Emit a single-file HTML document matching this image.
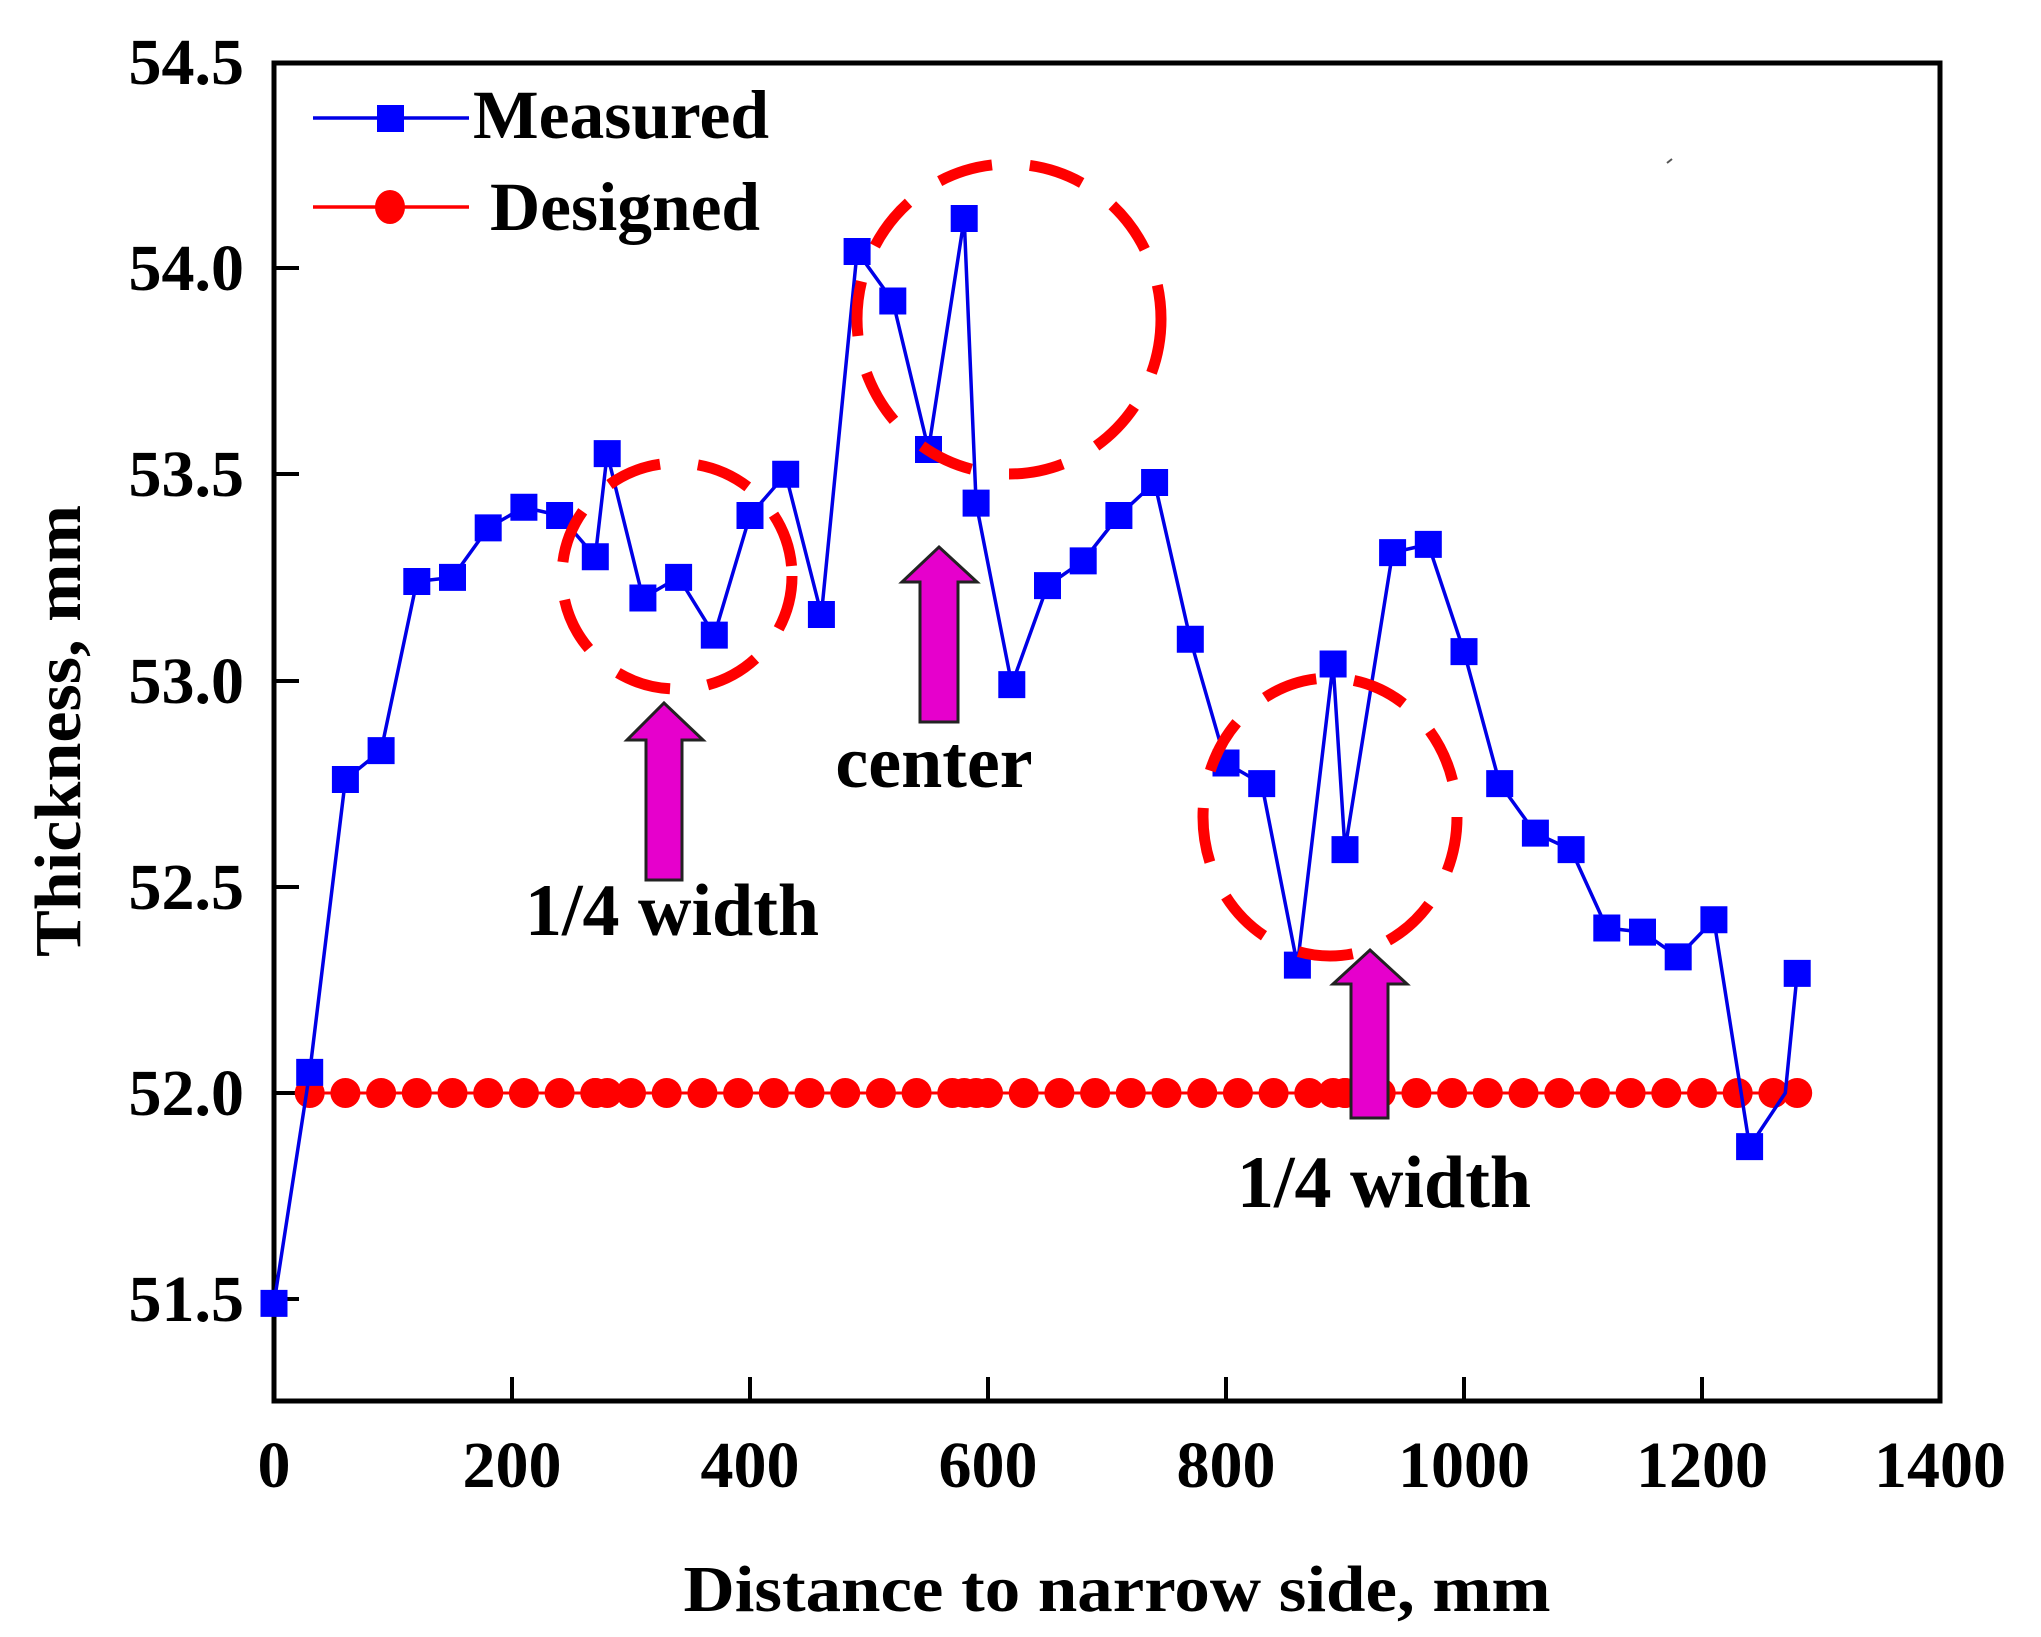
<!DOCTYPE html>
<html><head><meta charset="utf-8"><style>
html,body{margin:0;padding:0;background:#fff;}
svg{display:block;}
text{font-family:"Liberation Serif",serif;font-weight:bold;fill:#000;}
</style></head><body>
<svg width="2041" height="1637" viewBox="0 0 2041 1637" xmlns="http://www.w3.org/2000/svg">
<rect width="2041" height="1637" fill="#fff"/>
<rect x="274" y="63" width="1666" height="1338" fill="none" stroke="#000" stroke-width="5"/>
<g stroke="#000" stroke-width="4">
<line x1="512" y1="1401" x2="512" y2="1377"/>
<line x1="750" y1="1401" x2="750" y2="1377"/>
<line x1="988" y1="1401" x2="988" y2="1377"/>
<line x1="1226" y1="1401" x2="1226" y2="1377"/>
<line x1="1464" y1="1401" x2="1464" y2="1377"/>
<line x1="1702" y1="1401" x2="1702" y2="1377"/>
<line x1="274" y1="268" x2="299" y2="268"/>
<line x1="274" y1="474" x2="299" y2="474"/>
<line x1="274" y1="681" x2="299" y2="681"/>
<line x1="274" y1="887" x2="299" y2="887"/>
<line x1="274" y1="1093" x2="299" y2="1093"/>
<line x1="274" y1="1299" x2="299" y2="1299"/>
</g>
<g font-size="66" text-anchor="middle">
<text x="274" y="1487">0</text>
<text x="512" y="1487">200</text>
<text x="750" y="1487">400</text>
<text x="988" y="1487">600</text>
<text x="1226" y="1487">800</text>
<text x="1464" y="1487">1000</text>
<text x="1702" y="1487">1200</text>
<text x="1940" y="1487">1400</text>
</g>
<g font-size="66" text-anchor="end">
<text x="244" y="84">54.5</text>
<text x="244" y="290">54.0</text>
<text x="244" y="496">53.5</text>
<text x="244" y="703">53.0</text>
<text x="244" y="909">52.5</text>
<text x="244" y="1115">52.0</text>
<text x="244" y="1321">51.5</text>
</g>
<text x="1117" y="1611" font-size="66" text-anchor="middle" textLength="867" lengthAdjust="spacingAndGlyphs">Distance to narrow side, mm</text>
<text transform="translate(80,731) rotate(-90)" font-size="66" text-anchor="middle" textLength="452" lengthAdjust="spacingAndGlyphs">Thickness, mm</text>

<line x1="304" y1="1093" x2="1798" y2="1093" stroke="#f00" stroke-width="3"/>
<g fill="#f00" id="dc"></g>
<polyline id="mline" fill="none" stroke="#0000e6" stroke-width="3.5" points=""/>
<g id="msq" fill="#0000ff"></g>

<g fill="none" stroke="#ff0000" stroke-width="11" stroke-dasharray="55,38">
<ellipse cx="677" cy="576" rx="115" ry="113"/>
<ellipse cx="1009" cy="319" rx="152" ry="155"/>
<ellipse cx="1330" cy="817" rx="127" ry="139"/>
</g>

<g fill="#e600cc" stroke="#222" stroke-width="3">
<polygon points="664,703 703,740 682,740 682,880 646,880 646,740 627,740"/>
<polygon points="939,547 977,582 958,582 958,722 920,722 920,582 902,582"/>
<polygon points="1370,950 1407,984 1388,984 1388,1118 1351,1118 1351,984 1333,984"/>
</g>
<g font-size="74" text-anchor="middle">
<text x="672" y="935">1/4 width</text>
<text x="934" y="787">center</text>
<text x="1384" y="1207">1/4 width</text>
</g>

<line x1="313" y1="118" x2="469" y2="118" stroke="#0000e6" stroke-width="3.5"/>
<rect x="377" y="105" width="27" height="27" fill="#0000ff"/>
<text x="473" y="138" font-size="69" textLength="296" lengthAdjust="spacingAndGlyphs">Measured</text>
<line x1="313" y1="207" x2="469" y2="207" stroke="#f00" stroke-width="3.5"/>
<ellipse cx="390" cy="207" rx="15" ry="17" fill="#f00"/>
<text x="490" y="230" font-size="69" textLength="270" lengthAdjust="spacingAndGlyphs">Designed</text>
<line x1="1667" y1="163" x2="1672" y2="159" stroke="#555" stroke-width="2"/>

<script>
(function(){
var X=function(v){return 274+v*1.19;}, Y=function(v){return 268+(54-v)*412.5;};
var m=[[0,51.49],[30,52.05],[60,52.76],[90,52.83],[120,53.24],[150,53.25],[180,53.37],[210,53.42],[240,53.40],[270,53.30],[280,53.55],[310,53.20],[340,53.25],[370,53.11],[400,53.40],[430,53.50],[460,53.16],[490,54.04],[520,53.92],[550,53.56],[580,54.12],[590,53.43],[620,52.99],[650,53.23],[680,53.29],[710,53.40],[740,53.48],[770,53.10],[800,52.80],[830,52.75],[860,52.31],[890,53.04],[900,52.59],[940,53.31],[970,53.33],[1000,53.07],[1030,52.75],[1060,52.63],[1090,52.59],[1120,52.40],[1150,52.39],[1180,52.33],[1210,52.42],[1240,51.87],[1270,52.0],[1280,52.29]];
var ns="http://www.w3.org/2000/svg",pts=[],g=document.getElementById("msq");
m.forEach(function(p){var x=X(p[0]),y=Y(p[1]);pts.push(x+","+y);
 if(p[0]==1270)return;
 var r=document.createElementNS(ns,"rect");r.setAttribute("x",x-13.5);r.setAttribute("y",y-13.5);r.setAttribute("width",27);r.setAttribute("height",27);g.appendChild(r);});
document.getElementById("mline").setAttribute("points",pts.join(" "));
var d=[];for(var v=30;v<=1270;v+=30)d.push(v);d.push(270,280,580,590,890,900,1280);
var dc=document.getElementById("dc");
d.forEach(function(v){var c=document.createElementNS(ns,"circle");c.setAttribute("cx",X(v));c.setAttribute("cy",1093);c.setAttribute("r",15);dc.appendChild(c);});
})();
</script>
</svg>
</body></html>
